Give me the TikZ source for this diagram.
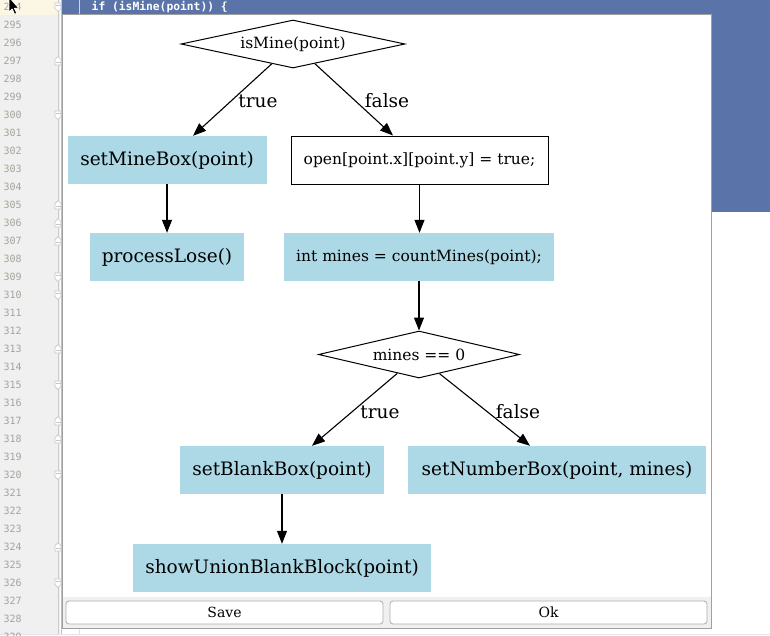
\documentclass[tikz,border=0pt]{standalone}
\usepackage{fontspec}
\setmainfont{DejaVu Serif}
\newfontfamily\codefont{DejaVu Sans Mono}
\usetikzlibrary{shapes.geometric,arrows.meta,calc}
\definecolor{selblue}{HTML}{5A74AA}
\definecolor{gutterbg}{HTML}{F0F0F0}
\definecolor{gnum}{HTML}{A8A298}
\definecolor{lb}{HTML}{ADD8E6}
\definecolor{dlgborder}{HTML}{A0A0A0}
\definecolor{btnborder}{HTML}{ADADAD}
\definecolor{rowyellow}{HTML}{FCF7E4}
\newcommand\bigtxt{\fontsize{18.5}{20}\selectfont}
\newcommand\smalltxt{\fontsize{15.5}{17}\selectfont}
\begin{document}
\begin{tikzpicture}[x=1pt,y=-1pt,
  box/.style={rectangle, fill=lb, inner sep=0pt, font=\bigtxt},
  sbox/.style={rectangle, fill=lb, inner sep=0pt, font=\smalltxt},
  wbox/.style={rectangle, draw=black, line width=1pt, fill=white, inner sep=0pt, font=\smalltxt},
  dia/.style={diamond, draw=black, line width=1pt, fill=white, inner sep=0pt, font=\smalltxt},
  arr/.style={draw, line width=1.1pt, -{Triangle[length=13pt,width=10pt]}},
  elabel/.style={font=\bigtxt, inner sep=0pt},
  btn/.style={rectangle, rounded corners=3pt, draw=btnborder, line width=0.8pt, fill=white, inner sep=0pt, font=\fontsize{14}{15}\selectfont},
  fm/.style={draw=black!22, fill=white, line width=0.7pt},
  lnum/.style={anchor=west, inner sep=0pt, text=gnum, font=\codefont\fontsize{10}{11}\selectfont}
]
\useasboundingbox (0,0) rectangle (770,635);
% editor background
\fill[white] (0,0) rectangle (770,635);
\fill[gutterbg] (0,0) rectangle (60,635);
\fill[rowyellow] (0,0) rectangle (58,14.5);
\fill[selblue] (61,0) rectangle (770,212);
\draw[black!20, line width=0.8pt] (58,0) -- (58,635);
\draw[black!25, line width=0.8pt] (61.5,0) -- (61.5,635);
\draw[white!70!selblue, line width=0.8pt] (79,0) -- (79,14);
\draw[black!12, line width=0.8pt] (79,628) -- (79,635);
\draw[black!10, line width=0.8pt] (0,634) -- (770,634);
% line numbers
\foreach \n in {294,...,329}
  \node[lnum] at (3.5,{7+(\n-294)*18}) {\n};
% fold markers
\foreach \n in {297,305,306,307,313,317,318,324}{
  \pgfmathsetmacro{\yy}{7+(\n-294)*18}
  \draw[fm] (55,\yy+4) -- (55,\yy-1.5) -- (58,\yy-4.5) -- (61,\yy-1.5) -- (61,\yy+4) -- cycle;
  \draw[black!22, line width=0.6pt] (55.5,\yy+1.5) -- (60.5,\yy+1.5);
}
\foreach \n in {294,300,309,310,315,320,326}{
  \pgfmathsetmacro{\yy}{7+(\n-294)*18}
  \draw[fm] (55,\yy-4) -- (55,\yy+1.5) -- (58,\yy+4.5) -- (61,\yy+1.5) -- (61,\yy-4) -- cycle;
  \draw[black!22, line width=0.6pt] (55.5,\yy-1.5) -- (60.5,\yy-1.5);
}
% code line
\node[anchor=west, inner sep=0pt, text=white, font=\codefont\bfseries\fontsize{11.3}{12}\selectfont] (code) at (91.5,7) {if (isMine(point)) \{};
% dialog
\draw[dlgborder, fill=white, line width=0.8pt] (62,14) rectangle (711,628);
\fill[gutterbg] (62.5,597) rectangle (710.5,627.5);
\node[btn, minimum width=317pt, minimum height=23pt] (save) at (224.5,612.5) {Save};
\node[btn, minimum width=317pt, minimum height=23pt] (ok) at (548.5,612.5) {Ok};
% flowchart nodes
\node[dia, minimum width=224pt, minimum height=48pt, aspect=4.67] (d1) at (293,44) {isMine(point)};
\node[box, minimum width=199pt, minimum height=48pt] (b1) at (167,160) {setMineBox(point)};
\node[wbox, minimum width=257pt, minimum height=48pt] (b3) at (419.5,160) {open[point.x][point.y] = true;};
\node[box, minimum width=154pt, minimum height=48pt] (b2) at (167,257) {processLose()};
\node[sbox, minimum width=270pt, minimum height=48pt] (b4) at (419,257) {int mines = countMines(point);};
\node[dia, minimum width=201pt, minimum height=47pt, aspect=4.28] (d2) at (419,354.5) {mines == 0};
\node[box, minimum width=204pt, minimum height=48pt] (b5) at (282,470) {setBlankBox(point)};
\node[box, minimum width=298pt, minimum height=48pt] (b6) at (557,470) {setNumberBox(point, mines)};
\node[box, minimum width=298pt, minimum height=48pt] (b7) at (282,568) {showUnionBlankBlock(point)};
% connectors
\draw[arr] (d1.223.6) -- ($(b1.north)+(26,0)$);
\draw[arr] (d1.-42.3) -- ($(b3.north)+(-26.5,0)$);
\draw[arr] (b1.south) -- (b2.north);
\draw[arr] (b3.south) -- (b3.south |- b4.north);
\draw[arr] (b4.south) -- (d2.north);
\draw[arr] (d2.221.1) -- ($(b5.north)+(30,0)$);
\draw[arr] (d2.-43.6) -- ($(b6.north)+(-27,0)$);
\draw[arr] (b5.south) -- (b7.north);
% edge labels
\node[elabel] (t1) at (258,101) {true};
\node[elabel] (f1) at (387,101) {false};
\node[elabel] (t2) at (380,412) {true};
\node[elabel] (f2) at (518,412) {false};
% mouse cursor
\draw[white, fill=black, line width=0.8pt, line join=round] (9,-3) -- (9,12) -- (12.2,9) -- (14.6,14.3) -- (16.8,13.3) -- (14.4,8.2) -- (18.8,8.2) -- cycle;
\end{tikzpicture}
\end{document}
